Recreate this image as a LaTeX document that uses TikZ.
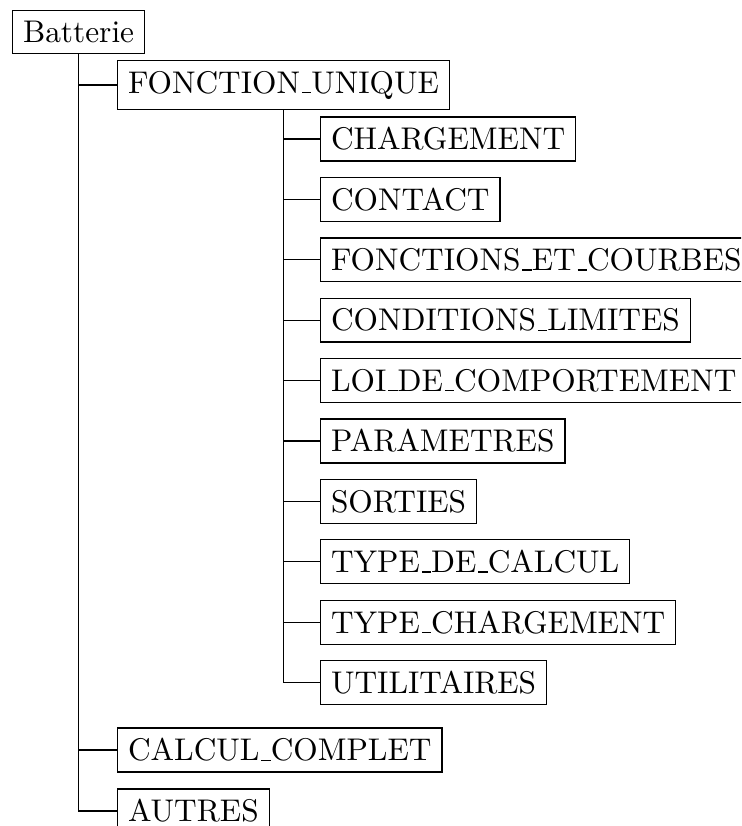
\documentclass[tikz,border=0pt]{standalone}
\newcommand\usc{\leavevmode\kern.06em\vbox{\hrule width.3em}}
\begin{document}
\begin{tikzpicture}[x=0.319pt,y=-0.319pt,
  box/.style={draw,anchor=west,font=\normalsize,inner sep=3.33pt},
  edge/.style={draw,line width=0.4pt}]
\clip (0,0) rectangle (741,826);
\node[box] (bat) at (12,32) {Batterie};
\node[box] (fu) at (117,85) {FONCTION\usc UNIQUE};
\node[box] (c1) at (320,139) {CHARGEMENT};
\node[box] (c2) at (320,199.4) {CONTACT};
\node[box] (c3) at (320,259.8) {FONCTIONS\usc ET\usc COURBES};
\node[box] (c4) at (320,320.2) {CONDITIONS\usc LIMITES};
\node[box] (c5) at (320,380.6) {LOI\usc DE\usc COMPORTEMENT};
\node[box] (c6) at (320,441) {PARAMETRES};
\node[box] (c7) at (320,501.4) {SORTIES};
\node[box] (c8) at (320,561.8) {TYPE\usc DE\usc CALCUL};
\node[box] (c9) at (320,622.2) {TYPE\usc CHARGEMENT};
\node[box] (c10) at (320,682.6) {UTILITAIRES};
\node[box] (cc) at (117,750) {CALCUL\usc COMPLET};
\node[box] (au) at (117,811) {AUTRES};
\foreach \n in {fu,cc,au} \draw[edge] (bat.south) |- (\n.west);
\foreach \n in {c1,c2,c3,c4,c5,c6,c7,c8,c9,c10} \draw[edge] (fu.south) |- (\n.west);
\end{tikzpicture}
\end{document}
